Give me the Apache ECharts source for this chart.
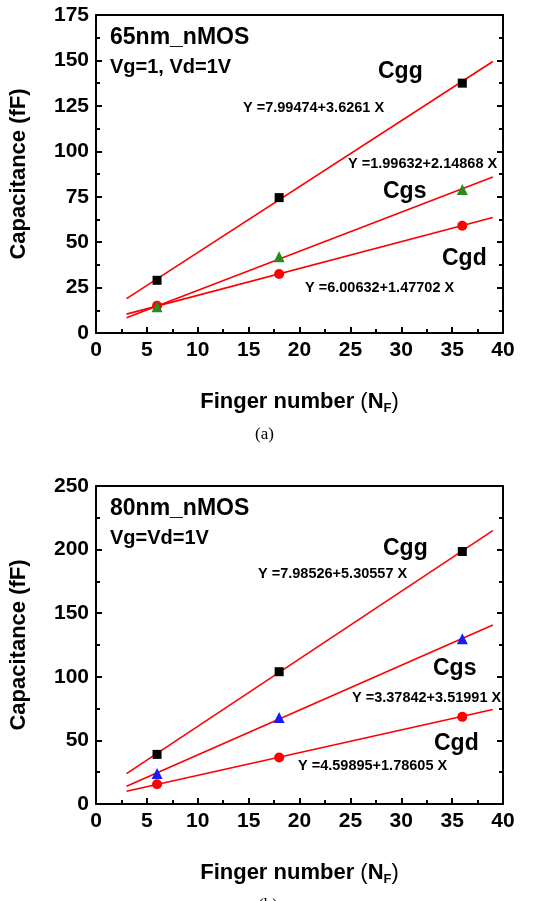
<!DOCTYPE html>
<html>
<head>
<meta charset="utf-8">
<script src="https://cdn.jsdelivr.net/npm/echarts@6/dist/echarts.min.js"></script>
<style>
  html, body { margin: 0; padding: 0; background: #fff; }
  #chart { width: 535px; height: 901px; }
</style>
</head>
<body>
<div id="chart"></div>
<script>
// 측정 데이터 (finger number)
var fingers = [6, 18, 36];

// (a) 65nm nMOS
var cgg65 = [29, 74.5, 137.5];
var cgs65 = [14.5, 42, 79];
var cgd65 = [15, 32.5, 59];
// fit line end points, x = 3 and x = 39
var fitX = [3, 39];
var cgg65Fit = [18.9, 149.4];
var cgs65Fit = [8.4, 85.8];
var cgd65Fit = [10.4, 63.6];

// (b) 80nm nMOS
var cgg80 = [39, 104, 198.5];
var cgs80 = [24, 68, 130];
var cgd80 = [15.5, 36.5, 68.5];
var cgg80Fit = [23.9, 214.9];
var cgs80Fit = [13.9, 140.7];
var cgd80Fit = [10.0, 74.3];

var xTicks = [0, 40, 5];
var yTicks65 = [0, 175, 25];
var yTicks80 = [0, 250, 50];

var font = 'Liberation Sans';

function pairs(xs, ys) {
    var arr = [];
    for (var i = 0; i < xs.length; i++) {
        arr.push([xs[i], ys[i]]);
    }
    return arr;
}

function xAxisMain(idx) {
    return {
        gridIndex: idx, type: 'value',
        min: xTicks[0], max: xTicks[1], interval: xTicks[2],
        name: '{a|Finger number }{p|(}{a|N}{s|F}{p|)}',
        nameLocation: 'middle', nameGap: 55,
        nameTextStyle: {
            rich: {
                a: { fontFamily: font, fontWeight: 'bold', fontSize: 22, color: '#000' },
                p: { fontFamily: font, fontSize: 22, color: '#000' },
                s: { fontFamily: font, fontWeight: 'bold', fontSize: 13, color: '#000', padding: [14, 0, 0, 0] }
            }
        },
        axisLine: { onZero: false, lineStyle: { color: '#000', width: 2 } },
        axisTick: { inside: true, length: 6, lineStyle: { color: '#000', width: 2 } },
        minorTick: { show: true, splitNumber: 2, length: 4, lineStyle: { color: '#000', width: 2 } },
        axisLabel: { fontFamily: font, fontWeight: 'bold', fontSize: 21, color: '#000', margin: 7 },
        splitLine: { show: false }
    };
}

function xAxisTop(idx) {
    return {
        gridIndex: idx, type: 'value', position: 'top',
        min: xTicks[0], max: xTicks[1], interval: xTicks[2],
        axisLine: { onZero: false, lineStyle: { color: '#000', width: 2 } },
        axisTick: { show: false },
        axisLabel: { show: false },
        splitLine: { show: false }
    };
}

function yAxisMain(idx, t) {
    return {
        gridIndex: idx, type: 'value',
        min: t[0], max: t[1], interval: t[2],
        name: 'Capacitance (fF)',
        nameLocation: 'middle', nameGap: 66, nameRotate: 90,
        nameTextStyle: { fontFamily: font, fontWeight: 'bold', fontSize: 22, color: '#000' },
        axisLine: { onZero: false, lineStyle: { color: '#000', width: 2 } },
        axisTick: { inside: true, length: 6, lineStyle: { color: '#000', width: 2 } },
        minorTick: { show: true, splitNumber: 2, length: 4, lineStyle: { color: '#000', width: 2 } },
        axisLabel: { fontFamily: font, fontWeight: 'bold', fontSize: 21, color: '#000', margin: 7 },
        splitLine: { show: false }
    };
}

function yAxisRight(idx, t) {
    return {
        gridIndex: idx, type: 'value', position: 'right',
        min: t[0], max: t[1], interval: t[2],
        axisLine: { onZero: false, lineStyle: { color: '#000', width: 2 } },
        axisTick: { inside: true, length: 6, lineStyle: { color: '#000', width: 2 } },
        minorTick: { show: true, splitNumber: 2, length: 4, lineStyle: { color: '#000', width: 2 } },
        axisLabel: { show: false },
        splitLine: { show: false }
    };
}

function fitLine(xi, yi, ys) {
    return {
        type: 'line', xAxisIndex: xi, yAxisIndex: yi,
        data: pairs(fitX, ys), symbol: 'none', silent: true,
        lineStyle: { color: '#ff0000', width: 1.6 }, z: 2
    };
}

function points(xi, yi, ys, symbol, size, color) {
    return {
        type: 'scatter', xAxisIndex: xi, yAxisIndex: yi,
        data: pairs(fingers, ys), symbol: symbol, symbolSize: size,
        itemStyle: { color: color, opacity: 1 }, z: 3
    };
}

function label(x, y, text, size, weight, family) {
    return {
        type: 'text', x: x, y: y,
        style: {
            text: text, fill: '#000',
            font: (weight || 'bold') + ' ' + size + 'px "' + (family || font) + '"',
            textVerticalAlign: 'middle'
        }
    };
}

var chart = echarts.init(document.getElementById('chart'));
var option = {
    animation: false,
    backgroundColor: '#fff',
    grid: [
        { left: 92, top: 15, width: 411, height: 318 },
        { left: 92, top: 486, width: 411, height: 318 }
    ],
    xAxis: [xAxisMain(0), xAxisTop(0), xAxisMain(1), xAxisTop(1)],
    yAxis: [yAxisMain(0, yTicks65), yAxisRight(0, yTicks65), yAxisMain(1, yTicks80), yAxisRight(1, yTicks80)],
    series: [
        fitLine(0, 0, cgg65Fit),
        fitLine(0, 0, cgs65Fit),
        fitLine(0, 0, cgd65Fit),
        points(0, 0, cgg65, 'rect', 9, '#000'),
        points(0, 0, cgd65, 'circle', 10, '#ff0000'),
        points(0, 0, cgs65, 'triangle', 11, '#2a8a1e'),
        fitLine(2, 2, cgg80Fit),
        fitLine(2, 2, cgs80Fit),
        fitLine(2, 2, cgd80Fit),
        points(2, 2, cgg80, 'rect', 9, '#000'),
        points(2, 2, cgd80, 'circle', 10, '#ff0000'),
        points(2, 2, cgs80, 'triangle', 11, '#1a1aff')
    ],
    graphic: [
        label(110, 38, '65nm_nMOS', 23),
        label(110, 67, 'Vg=1, Vd=1V', 20),
        label(378, 72, 'Cgg', 23),
        label(243, 108, 'Y =7.99474+3.6261 X', 14.5),
        label(348, 164, 'Y =1.99632+2.14868 X', 14.5),
        label(383, 192, 'Cgs', 23),
        label(442, 259, 'Cgd', 23),
        label(305, 288, 'Y =6.00632+1.47702 X', 14.5),
        label(255, 435, '(a)', 17, 'normal', 'Liberation Serif'),

        label(110, 509, '80nm_nMOS', 23),
        label(110, 538, 'Vg=Vd=1V', 20),
        label(383, 549, 'Cgg', 23),
        label(258, 574, 'Y =7.98526+5.30557 X', 14.5),
        label(433, 669, 'Cgs', 23),
        label(352, 698, 'Y =3.37842+3.51991 X', 14.5),
        label(434, 744, 'Cgd', 23),
        label(298, 766, 'Y =4.59895+1.78605 X', 14.5),
        label(258, 906, '(b)', 17, 'normal', 'Liberation Serif')
    ]
};
chart.setOption(option);
</script>
</body>
</html>
